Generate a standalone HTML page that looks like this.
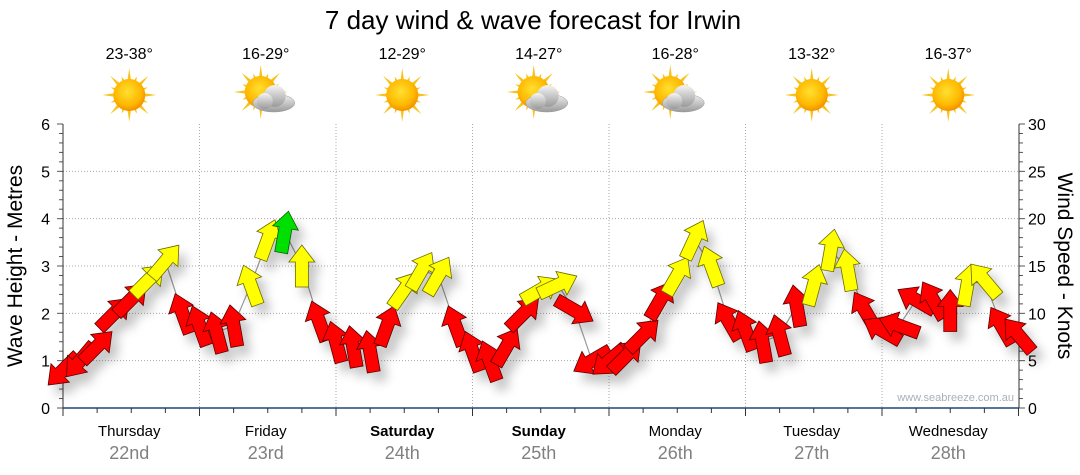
<!DOCTYPE html>
<html><head><meta charset="utf-8">
<style>
body{margin:0;background:#fff;font-family:"Liberation Sans","DejaVu Sans",sans-serif;}
svg{display:block}
</style></head>
<body>
<svg id="chart" width="1080" height="475" xmlns="http://www.w3.org/2000/svg">
<defs>
<filter id="sh" x="-50%" y="-50%" width="200%" height="200%"><feDropShadow dx="7" dy="9" stdDeviation="5" flood-color="#000" flood-opacity="0.22"/></filter>
<radialGradient id="sunG" cx="45%" cy="40%" r="60%"><stop offset="0" stop-color="#ffe030"/><stop offset="0.7" stop-color="#ffb800"/><stop offset="1" stop-color="#f39000"/></radialGradient>
<linearGradient id="cloudG" x1="0" y1="0" x2="0" y2="1"><stop offset="0" stop-color="#f4f4f4"/><stop offset="1" stop-color="#9a9a9a"/></linearGradient>
</defs>
<text x="533" y="29" font-size="26" text-anchor="middle" fill="#000">7 day wind &amp; wave forecast for Irwin</text>
<g id="grid"></g>
<g id="axes"></g>
<g id="weather"></g>
<g id="marks"></g>
<text x="1014" y="401" font-size="11" text-anchor="end" fill="#a8b0bc">www.seabreeze.com.au</text>
<text transform="translate(22,266) rotate(-90)" font-size="21" text-anchor="middle">Wave Height - Metres</text>
<text transform="translate(1058,266) rotate(90)" font-size="21" text-anchor="middle">Wind Speed - Knots</text>
</svg>
<script>
const days = ["Thursday","Friday","Saturday","Sunday","Monday","Tuesday","Wednesday"];
const dates = ["22nd","23rd","24th","25th","26th","27th","28th"];
const boldDays = [false,false,true,true,false,false,false];
const temps = ["23-38°","16-29°","12-29°","14-27°","16-28°","13-32°","16-37°"];
const icons = ["sun","cloud","sun","cloud","cloud","sun","sun"];
const waveTicks = [0,1,2,3,4,5,6];
const windTicks = [0,5,10,15,20,25,30];
// wind speed (knots) every 3 hours from Thursday 00:00
const windSpeed = [4,5,6.5,10,11.5,13.5,15.5,10, 8.7,8,8.7,13,17.8,18.6,15,9.2, 7,6.5,6,8.7,12.5,14.5,14,8.7, 6,5,6.5,10,12.5,13,10.3,5, 5,5.5,7.7,11.4,14,17.8,15,9.2, 8.2,7,7.7,10.8,13,16.7,14.6,10.3, 8.2,8.7,11.4,11.4,10.3,13,13.5,8.7,7.7];
// direction arrow points toward (degrees, 0 = up, clockwise)
const windDir = [225,220,45,45,45,45,40,340, 340,345,350,340,20,10,0,340, 345,350,350,20,35,30,30,340, 340,340,30,45,60,65,120,240, 230,45,45,30,30,25,340,330, 340,350,345,350,15,10,350,330, 300,290,300,330,0,10,320,330,320];

const NS="http://www.w3.org/2000/svg";
const X0=63, DW=136.5, YB=408, YT=124;
const xDay = d => X0 + d*DW;
const xHour = h => X0 + h/24*DW;
const yWave = m => YB - m/6*(YB-YT);
const yWind = k => YB - k/30*(YB-YT);
function el(tag, attrs, parent){const e=document.createElementNS(NS,tag);for(const k in attrs)e.setAttribute(k,attrs[k]);parent.appendChild(e);return e;}
const grid=document.getElementById('grid'), axes=document.getElementById('axes'), weather=document.getElementById('weather'), marks=document.getElementById('marks');

waveTicks.forEach((m,i)=>{
  if(m>0&&m<6){const l=el('line',{x1:X0,x2:1019,y1:yWave(m),y2:yWave(m),stroke:'#aaa','stroke-dasharray':'1,2'},grid);
  
  }
  const t=el('text',{x:50,y:yWave(m)+6,'font-size':16,'text-anchor':'end',fill:'#000'},axes);t.textContent=m;
  
  
});
windTicks.forEach(k=>{
  const t=el('text',{x:1028,y:yWind(k)+6,'font-size':16,fill:'#000'},axes);t.textContent=k;
  
  
});
for(let i=0;i<=30;i++){
  const y=YB-i*(YB-YT)/30, major=i%5==0;
  el('line',{x1:X0-(major?6:4),x2:X0,y1:y,y2:y,stroke:'#555'},axes);
  el('line',{x1:1019,x2:1019+(major?6:4),y1:y,y2:y,stroke:'#555'},axes);
}
el('line',{x1:X0,x2:X0,y1:YT,y2:YB,stroke:'#333'},axes);
el('line',{x1:1019,x2:1019,y1:YT,y2:YB,stroke:'#333'},axes);
el('line',{x1:X0,x2:1019,y1:YB,y2:YB,stroke:'#1a4a7a','stroke-width':1.5},axes);
for(let h=0;h<=168;h+=6){const x=xHour(h);el('line',{x1:x,x2:x,y1:YB,y2:YB+(h%24==0?8:5),stroke:'#333'},axes);}
days.forEach((d,i)=>{
  if(i>0){const l=el('line',{x1:xDay(i),x2:xDay(i),y1:YT,y2:YB,stroke:'#aaa','stroke-dasharray':'1,2'},grid);
  
  }
  const cx=xDay(i)+DW/2;
  const t=el('text',{x:cx-2,y:436,'font-size':15,'text-anchor':'middle','font-weight':boldDays[i]?'bold':'normal'},axes);t.textContent=d;
  
  
  const t2=el('text',{x:cx-2,y:459,'font-size':18,'text-anchor':'middle',fill:'#808080'},axes);t2.textContent=dates[i];
  
  
  const tt=el('text',{x:cx-2,y:59,'font-size':16,'text-anchor':'middle'},weather);tt.textContent=temps[i];
  
  
  const g=el('g',{transform:`translate(${cx-2},95)`},weather);
  
  
  const sx= icons[i]=='sun'?0:-5, sy=icons[i]=='sun'?0:-3;
  for(let a=0;a<16;a++){const r=a%2?20:27;const ang=a*Math.PI/8;
    el('polygon',{points:`${sx+Math.cos(ang)*r},${sy+Math.sin(ang)*r} ${sx+Math.cos(ang+0.18)*12},${sy+Math.sin(ang+0.18)*12} ${sx+Math.cos(ang-0.18)*12},${sy+Math.sin(ang-0.18)*12}`,fill:'#f7c21a'},g);}
  el('circle',{cx:sx,cy:sy,r:16,fill:'url(#sunG)'},g);
  if(icons[i]!='sun'){
    el('ellipse',{cx:8,cy:8,rx:21,ry:9,fill:'url(#cloudG)',stroke:'#999','stroke-width':0.5},g);
    el('circle',{cx:9,cy:1,r:11,fill:'url(#cloudG)'},g);
    el('circle',{cx:-1,cy:6,r:8,fill:'url(#cloudG)'},g);
  }
});

// connecting line
let pts=windSpeed.map((k,i)=>`${xHour(i*3)},${yWind(k)}`).join(' ');
const pl=el('polyline',{points:pts,fill:'none',stroke:'#999','stroke-width':1.2},marks);


const ag=el('g',{filter:'url(#sh)'},marks);
windSpeed.forEach((k,i)=>{
  const col = k>=18?'#00e000':(k>=12?'#ffff00':'#ff0000');
  const st = k>=18?'#0a5a0a':(k>=12?'#6a6a00':'#5a0000');
  const a=el('polygon',{points:'-6.5,21 6.5,21 6.5,-4 13,-4 0,-21 -13,-4 -6.5,-4',fill:col,stroke:st,'stroke-width':0.8,
    transform:`translate(${xHour(i*3)},${yWind(k)}) rotate(${windDir[i]})`},ag);
  
  
});
</script>
</body></html>
